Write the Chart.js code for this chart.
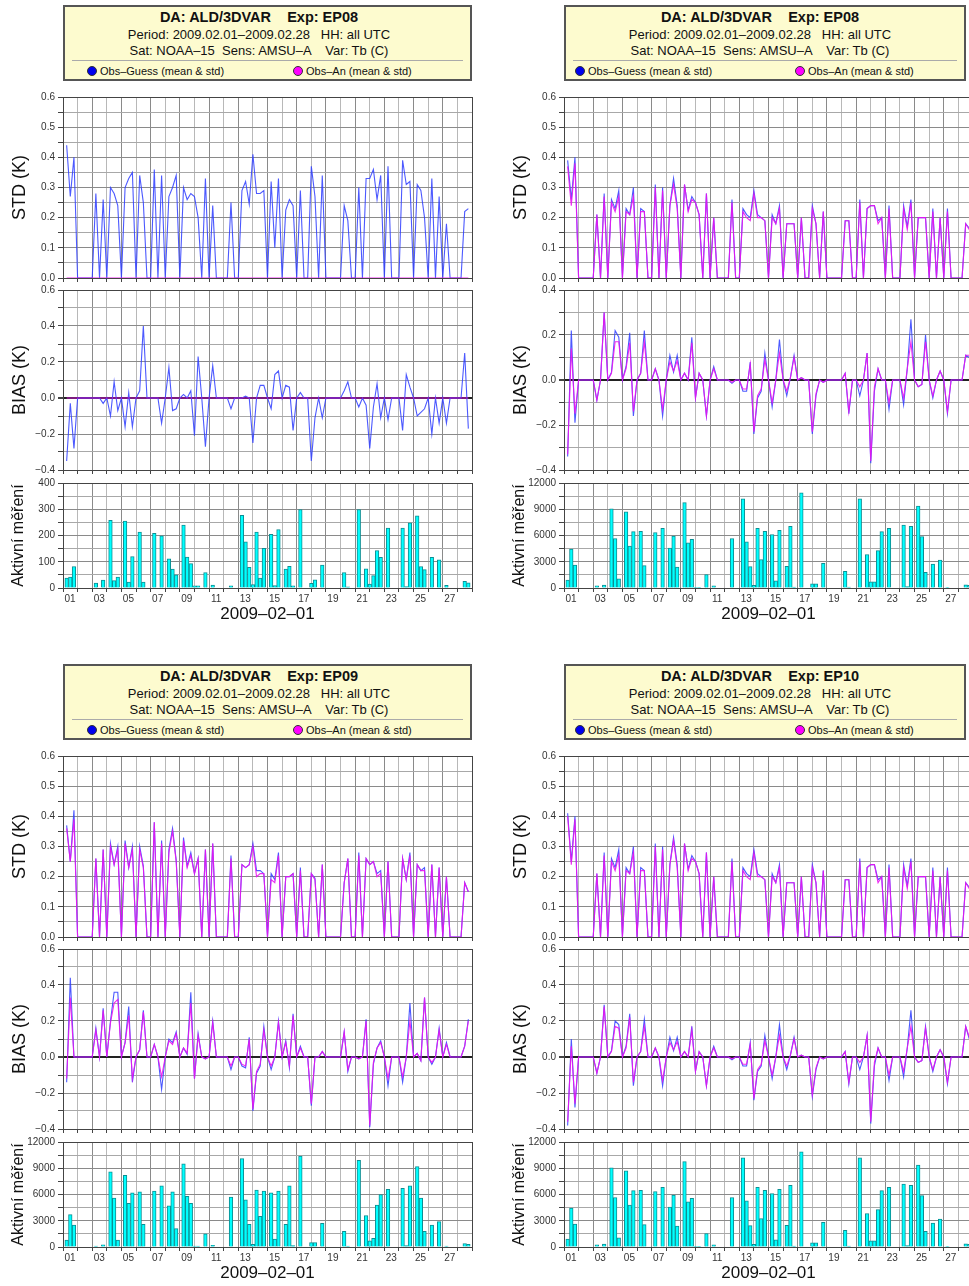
<!DOCTYPE html>
<html>
<head>
<meta charset="utf-8">
<script src="https://cdn.jsdelivr.net/npm/chart.js@4.4.1/dist/chart.umd.min.js"></script>
<style>
  body { margin: 0; background: #fff; width: 969px; height: 1286px; overflow: hidden; position: relative;
         font-family: "Liberation Sans", Arial, sans-serif; }
  canvas { position: absolute; }
  .box { position: absolute; background: #fdfbcf; border: 2px solid #555; box-sizing: border-box; }
  .ln { position: absolute; width: 400px; text-align: center; color: #111; white-space: pre; line-height: 16px; }
  .sep { position: absolute; height: 0; border-top: 1px solid #aaa; }
  .leg { position: absolute; font-size: 11px; color: #111; white-space: pre; line-height: 12px; }
  .dot { display: inline-block; width: 10px; height: 10px; border-radius: 50%; vertical-align: -1px; margin-right: 3px;
         box-sizing: border-box; border: 1px solid #333; }
</style>
</head>
<body>
<script>
// tick labels of the day axis (every second day)
const dayLabels = ['01','03','05','07','09','11','13','15','17','19','21','23','25','27'];

// 6-hourly values, slot i sits at day (i+1)/4 after 2009-02-01 00 UTC

// ---- EP08 (top left)
const ep08a_std_og = [
  0.44,0.27,0.40,0,0,0,0,0,
  0.28,0,0.26,0,0.30,0.28,0.24,0,
  0.30,0.33,0.35,0,0.34,0.25,0,0,
  0.36,0,0.34,0,0.27,0.30,0.34,0,
  0.30,0.26,0.28,0.27,0.20,0,0.33,0,
  0.24,0,0,0,0,0.25,0,0,
  0.29,0.32,0.245,0.41,0.28,0.28,0.29,0,
  0.32,0.10,0.33,0,0.225,0.26,0.24,0,
  0.29,0,0,0.37,0.27,0,0.34,0,
  0,0,0,0,0.24,0.19,0,0,
  0.30,0,0.33,0.33,0.36,0.26,0.34,0,
  0.37,0,0,0,0.39,0.31,0.32,0,
  0.31,0.29,0.20,0,0.33,0,0.27,0,
  0.18,0,0,0,0,0.22,0.23];
const ep08a_std_oa = [
  0,0,0,0,0,0,0,0, 0,0,0,0,0,0,0,0, 0,0,0,0,0,0,0,0, 0,0,0,0,0,0,0,0,
  0,0,0,0,0,0,0,0, 0,0,0,0,0,0,0,0, 0,0,0,0,0,0,0,0, 0,0,0,0,0,0,0,0,
  0,0,0,0,0,0,0,0, 0,0,0,0,0,0,0,0, 0,0,0,0,0,0,0,0, 0,0,0,0,0,0,0,0,
  0,0,0,0,0,0,0,0, 0,0,0,0,0,0,0];
const ep08a_bias_og = [
  -0.35,-0.03,-0.28,0,0,0,0,0,
  0,0,-0.03,0,-0.10,0.09,-0.07,0,
  -0.16,0.03,-0.16,0,0.04,0.40,0,0,
  0,0,-0.14,0,0.17,-0.07,-0.06,0,
  0.02,0,0.04,-0.21,0.23,0,-0.27,0,
  0.18,0,0,0,0,-0.06,0,0,
  0,0.01,0,-0.25,0,0.07,0.07,0,
  -0.06,0.13,0.15,0,0.07,0.06,-0.18,0,
  0.03,0,0,-0.35,-0.11,0,-0.11,0,
  0,0,0,0,0.04,0.09,0,0,
  -0.05,0,-0.04,-0.28,-0.05,0.08,-0.11,0,
  -0.12,0,0,0,-0.18,0.13,0.06,0,
  -0.10,-0.08,-0.06,0,-0.20,0,-0.14,0,
  -0.14,0,0,0,0,0.25,-0.17];
const ep08a_bias_oa = ep08a_std_oa;
const ep08a_obs = [
  38,42,82,0,0,0,0,0,
  19,0,30,0,258,28,42,0,
  255,23,120,0,213,23,0,0,
  208,0,199,0,111,72,50,0,
  240,118,93,8,8,0,59,0,
  11,0,0,0,0,8,0,0,
  277,176,79,13,213,38,151,0,
  204,9,223,0,72,83,8,0,
  299,0,0,18,31,0,87,0,
  0,0,0,0,59,4,0,0,
  299,0,73,15,47,143,117,0,
  228,0,0,0,228,5,248,0,
  275,82,70,0,117,0,107,0,
  10,0,0,0,0,25,20];

// ---- EP08 (top right)
const ep08b_std_og = [
  0.39,0.26,0.40,0,0,0,0,0,
  0.21,0,0.28,0,0.26,0.23,0.29,0,
  0.23,0.21,0.30,0,0.23,0.22,0,0,
  0.31,0,0.30,0,0.24,0.33,0.24,0,
  0.31,0.225,0.27,0.25,0.21,0,0.28,0,
  0.20,0,0,0,0,0.26,0,0,
  0.23,0.21,0.20,0.29,0.21,0.20,0.19,0,
  0.21,0.18,0.24,0,0.18,0.18,0.18,0,
  0.20,0,0,0.24,0.18,0,0.22,0,
  0,0,0,0,0.19,0.19,0,0,
  0.26,0,0.23,0.24,0.24,0.19,0.20,0,
  0.24,0,0,0,0.24,0.17,0.26,0,
  0.20,0.20,0.20,0,0.23,0,0.20,0,
  0.23,0,0,0,0,0.18,0.165];
const ep08b_std_oa = [
  0.37,0.24,0.38,0,0,0,0,0,
  0.21,0,0.27,0,0.25,0.22,0.27,0,
  0.22,0.21,0.27,0,0.22,0.22,0,0,
  0.30,0,0.29,0,0.24,0.31,0.23,0,
  0.31,0.22,0.26,0.25,0.21,0,0.28,0,
  0.20,0,0,0,0,0.25,0,0,
  0.22,0.20,0.19,0.28,0.20,0.20,0.19,0,
  0.20,0.18,0.23,0,0.18,0.18,0.18,0,
  0.20,0,0,0.23,0.18,0,0.22,0,
  0,0,0,0,0.19,0.19,0,0,
  0.25,0,0.23,0.24,0.24,0.18,0.20,0,
  0.23,0,0,0,0.23,0.16,0.25,0,
  0.20,0.20,0.20,0,0.22,0,0.20,0,
  0.22,0,0,0,0,0.18,0.16];
const ep08b_bias_og = [
  -0.34,0.22,-0.19,0,0,0,0,0,
  -0.09,0,0.30,0,0.035,0.22,0.19,0,
  0.06,0.21,-0.16,0,0.03,0.22,0,0,
  0.05,0,-0.16,0,0.11,0.035,0.11,0,
  0.03,0,0.19,-0.08,0.03,0,-0.16,0,
  0.06,0,0,0,0,-0.015,0,0,
  -0.05,-0.05,0.08,-0.24,-0.08,-0.05,0.12,0,
  -0.12,0,0.18,0,-0.07,0.01,0.11,0,
  0.01,0,0,-0.24,-0.07,0,-0.01,0,
  0,0,0,0,0.03,-0.15,0,0,
  -0.07,0,0.12,-0.37,-0.05,0.05,0,0,
  -0.13,0,0,0,-0.11,0.05,0.27,0,
  -0.03,-0.02,0.20,0,-0.08,0,0.04,0,
  -0.15,0,0,0,0,0.11,0.10];
const ep08b_bias_oa = [
  -0.33,0.14,-0.15,0,0,0,0,0,
  -0.09,0,0.30,0,0.03,0.17,0.17,0,
  0.05,0.165,-0.14,0,0.03,0.17,0,0,
  0.05,0,-0.13,0,0.08,0.04,0.085,0,
  0.03,0,0.165,-0.08,0.03,0,-0.16,0,
  0.05,0,0,0,0,-0.01,0,0,
  -0.04,-0.04,0.07,-0.23,-0.07,-0.04,0.09,0,
  -0.10,0,0.12,0,-0.05,0.01,0.10,0,
  0.01,0,0,-0.23,-0.06,0,-0.01,0,
  0,0,0,0,0.03,-0.14,0,0,
  -0.03,0,0.12,-0.36,-0.03,0.05,0,0,
  -0.10,0,0,0,-0.08,0.05,0.17,0,
  -0.03,-0.02,0.17,0,-0.07,0,0.04,0,
  -0.14,0,0,0,0,0.11,0.11];
const ep08b_obs = [
  900,4460,2625,0,0,0,0,0,
  260,0,340,0,9040,5660,1050,0,
  8700,4800,6450,0,6490,2550,0,0,
  6340,0,6830,0,4575,5925,2400,0,
  9750,5175,5550,80,80,0,1540,0,
  260,0,0,0,0,5660,0,0,
  10200,5290,2440,300,6830,3260,6490,0,
  6110,825,6600,0,2475,7050,100,0,
  10870,0,0,490,490,0,2810,0,
  0,0,0,0,1910,110,0,0,
  10200,0,3830,710,710,4275,6450,0,
  6825,0,0,0,7200,150,7050,0,
  9375,5890,1800,0,2740,0,3190,0,
  75,0,0,0,0,375,300];

// ---- EP09 (bottom left)
const ep09_std_og = [
  0.37,0.25,0.42,0,0,0,0,0,
  0.26,0,0.29,0,0.31,0.24,0.30,0,
  0.32,0.23,0.30,0,0.30,0.235,0,0,
  0.38,0,0.32,0,0.29,0.36,0.255,0,
  0.33,0.235,0.28,0.21,0.26,0,0.29,0,
  0.31,0,0,0,0,0.27,0,0,
  0.24,0.23,0.24,0.31,0.22,0.22,0.21,0,
  0.21,0.19,0.28,0,0.20,0.20,0.21,0,
  0.23,0,0,0.21,0.195,0,0.24,0,
  0,0,0,0,0.18,0.26,0,0,
  0.28,0,0.26,0.24,0.25,0.21,0.22,0,
  0.25,0,0,0,0.26,0.19,0.28,0,
  0.24,0.22,0.23,0,0.24,0,0.23,0,
  0.20,0,0,0,0,0.18,0.15];
const ep09_std_oa = [
  0.36,0.25,0.39,0,0,0,0,0,
  0.26,0,0.29,0,0.30,0.24,0.29,0,
  0.31,0.23,0.29,0,0.29,0.23,0,0,
  0.38,0,0.31,0,0.28,0.35,0.25,0,
  0.32,0.23,0.27,0.21,0.26,0,0.29,0,
  0.31,0,0,0,0,0.26,0,0,
  0.24,0.23,0.24,0.30,0.20,0.21,0.21,0,
  0.19,0.18,0.27,0,0.20,0.20,0.21,0,
  0.22,0,0,0.21,0.19,0,0.24,0,
  0,0,0,0,0.18,0.26,0,0,
  0.27,0,0.26,0.24,0.25,0.20,0.21,0,
  0.25,0,0,0,0.26,0.19,0.27,0,
  0.24,0.22,0.22,0,0.24,0,0.23,0,
  0.20,0,0,0,0,0.18,0.15];
const ep09_bias_og = [
  -0.14,0.44,0,0,0,0,0,0,
  0.16,0,0.27,0,0.20,0.36,0.36,0,
  0.08,0.28,-0.14,0,0.04,0.26,0,0,
  0.07,0,-0.18,0,0.10,0.08,0.14,0,
  0.05,0.015,0.36,-0.12,0.13,0,-0.01,0,
  0.20,0,0,0,0,-0.07,0,0,
  -0.05,-0.06,0.11,-0.30,-0.09,-0.05,0.17,0,
  -0.07,0,0.20,0,0.09,-0.06,0.24,0,
  0.06,0,0,-0.27,0,0,0.03,0,
  0,0,0,0,0.14,-0.08,0,0,
  -0.01,0,0.21,-0.39,-0.04,0.05,0.09,0,
  -0.16,0,0,0,-0.14,0,0.30,0,
  0.02,-0.02,0.33,0,-0.04,0,0.16,0,
  0.08,0,0,0,0,0.06,0.21];
const ep09_bias_oa = [
  -0.12,0.33,0,0,0,0,0,0,
  0.15,0,0.26,0,0.19,0.30,0.32,0,
  0.08,0.23,-0.12,0,0.04,0.25,0,0,
  0.07,0,-0.11,0,0.09,0.07,0.13,0,
  0.05,0.02,0.30,-0.12,0.12,0,-0.01,0,
  0.19,0,0,0,0,-0.05,0,0,
  -0.04,-0.05,0.10,-0.29,-0.08,-0.04,0.15,0,
  -0.05,0,0.19,0,0.08,-0.05,0.23,0,
  0.05,0,0,-0.26,0,0,0.03,0,
  0,0,0,0,0.14,-0.07,0,0,
  -0.01,0,0.20,-0.38,-0.03,0.05,0.08,0,
  -0.12,0,0,0,-0.11,0,0.20,0,
  0.02,-0.02,0.33,0,-0.03,0,0.15,0,
  0.07,0,0,0,0,0.06,0.20];
const ep09_obs = [
  800,3700,2500,0,0,0,0,0,
  100,0,250,0,8600,5600,800,0,
  8200,5000,6200,0,6300,2600,0,0,
  6400,0,7000,0,4700,6300,2100,0,
  9500,5800,5000,100,100,0,1500,0,
  200,0,0,0,0,5700,0,0,
  10100,5400,2600,300,6500,3500,6400,0,
  6200,900,6400,0,2600,7000,150,0,
  10400,0,0,500,500,0,2700,0,
  0,0,0,0,1800,100,0,0,
  9900,0,3600,700,1000,4800,6000,0,
  6600,0,0,0,6700,150,7000,0,
  9200,5600,1800,0,2500,0,2900,0,
  100,0,0,0,0,400,300];

// ---- EP10 (bottom right)
const ep10_std_og = [
  0.41,0.25,0.40,0,0,0,0,0,
  0.21,0,0.28,0,0.26,0.23,0.29,0,
  0.23,0.21,0.30,0,0.23,0.22,0,0,
  0.31,0,0.30,0,0.24,0.33,0.24,0,
  0.31,0.225,0.27,0.25,0.21,0,0.28,0,
  0.20,0,0,0,0,0.26,0,0,
  0.23,0.21,0.20,0.29,0.21,0.20,0.19,0,
  0.21,0.18,0.24,0,0.18,0.18,0.18,0,
  0.20,0,0,0.24,0.18,0,0.22,0,
  0,0,0,0,0.19,0.19,0,0,
  0.26,0,0.23,0.24,0.24,0.19,0.20,0,
  0.24,0,0,0,0.24,0.17,0.26,0,
  0.20,0.20,0.20,0,0.23,0,0.20,0,
  0.23,0,0,0,0,0.18,0.165];
const ep10_std_oa = [
  0.40,0.24,0.39,0,0,0,0,0,
  0.21,0,0.27,0,0.25,0.22,0.27,0,
  0.22,0.21,0.28,0,0.22,0.22,0,0,
  0.30,0,0.29,0,0.24,0.32,0.23,0,
  0.31,0.22,0.26,0.25,0.21,0,0.28,0,
  0.20,0,0,0,0,0.25,0,0,
  0.22,0.20,0.19,0.28,0.20,0.20,0.19,0,
  0.20,0.18,0.23,0,0.18,0.18,0.18,0,
  0.20,0,0,0.23,0.18,0,0.22,0,
  0,0,0,0,0.19,0.19,0,0,
  0.25,0,0.23,0.24,0.24,0.18,0.20,0,
  0.23,0,0,0,0.23,0.16,0.25,0,
  0.20,0.20,0.20,0,0.22,0,0.20,0,
  0.22,0,0,0,0,0.18,0.16];
const ep10_bias_og = [
  -0.38,0.10,-0.28,0,0,0,0,0,
  -0.09,0,0.29,0,0.035,0.20,0.18,0,
  0.06,0.24,-0.16,0,0.03,0.21,0,0,
  0.05,0,-0.16,0,0.11,0.035,0.11,0,
  0.03,0,0.17,-0.08,0.03,0,-0.16,0,
  0.06,0,0,0,0,-0.015,0,0,
  -0.05,-0.05,0.08,-0.24,-0.08,-0.05,0.12,0,
  -0.12,0,0.18,0,-0.07,0.01,0.11,0,
  0.01,0,0,-0.22,-0.07,0,-0.01,0,
  0,0,0,0,0.03,-0.15,0,0,
  -0.07,0,0.12,-0.37,-0.05,0.05,0,0,
  -0.13,0,0,0,-0.11,0.05,0.26,0,
  -0.03,-0.02,0.17,0,-0.08,0,0.04,0,
  -0.15,0,0,0,0,0.17,0.10];
const ep10_bias_oa = [
  -0.36,0.06,-0.26,0,0,0,0,0,
  -0.09,0,0.28,0,0.03,0.17,0.16,0,
  0.05,0.22,-0.14,0,0.03,0.17,0,0,
  0.05,0,-0.13,0,0.08,0.04,0.085,0,
  0.03,0,0.15,-0.08,0.03,0,-0.16,0,
  0.05,0,0,0,0,-0.01,0,0,
  -0.04,-0.04,0.07,-0.23,-0.07,-0.04,0.09,0,
  -0.10,0,0.12,0,-0.05,0.01,0.10,0,
  0.01,0,0,-0.21,-0.06,0,-0.01,0,
  0,0,0,0,0.03,-0.14,0,0,
  -0.03,0,0.12,-0.36,-0.03,0.05,0,0,
  -0.10,0,0,0,-0.08,0.05,0.17,0,
  -0.03,-0.02,0.16,0,-0.07,0,0.04,0,
  -0.14,0,0,0,0,0.17,0.11];
const ep10_obs = [
  900,4460,2625,0,0,0,0,0,
  260,0,340,0,9040,5660,1050,0,
  8700,4800,6450,0,6490,2550,0,0,
  6340,0,6830,0,4575,5925,2400,0,
  9750,5175,5550,80,80,0,1540,0,
  260,0,0,0,0,5660,0,0,
  10200,5290,2440,300,6830,3260,6490,0,
  6110,825,6600,0,2475,7050,100,0,
  10870,0,0,490,490,0,2810,0,
  0,0,0,0,1910,110,0,0,
  10200,0,3830,710,710,4275,6450,0,
  6825,0,0,0,7200,150,7050,0,
  9375,5890,1800,0,2740,0,3190,0,
  75,0,0,0,0,375,300];

const panels = [
  { dx: 0,   dy: 0,   exp: 'EP08', std: [ep08a_std_og, ep08a_std_oa], bias: [ep08a_bias_og, ep08a_bias_oa], obs: ep08a_obs,
    biasMax: 0.6, obsMax: 400, obsStep: 50, obsLab: 100, tx: 259, l1: 87, l2: 293, bw: 409 },
  { dx: 501, dy: 0,   exp: 'EP08', std: [ep08b_std_og, ep08b_std_oa], bias: [ep08b_bias_og, ep08b_bias_oa], obs: ep08b_obs,
    biasMax: 0.4, obsMax: 12000, obsStep: 1500, obsLab: 3000, tx: 760, l1: 575, l2: 795, bw: 402 },
  { dx: 0,   dy: 659, exp: 'EP09', std: [ep09_std_og, ep09_std_oa], bias: [ep09_bias_og, ep09_bias_oa], obs: ep09_obs,
    biasMax: 0.6, obsMax: 12000, obsStep: 1500, obsLab: 3000, tx: 259, l1: 87, l2: 293, bw: 409 },
  { dx: 501, dy: 659, exp: 'EP10', std: [ep10_std_og, ep10_std_oa], bias: [ep10_bias_og, ep10_bias_oa], obs: ep10_obs,
    biasMax: 0.6, obsMax: 12000, obsStep: 1500, obsLab: 3000, tx: 760, l1: 575, l2: 795, bw: 402 },
];

Chart.defaults.font.family = '"Liberation Sans", Arial, sans-serif';
Chart.defaults.color = '#222';
Chart.defaults.animation = false;

const pts = arr => arr.map((v, i) => ({ x: (i + 1) / 4, y: v }));
const barPts = arr => arr.map((v, i) => ({ x: (i + 1) / 4, y: v })).filter(p => p.y > 0);
const near = (a, b) => Math.abs(a - b) < 1e-6;
const minus = s => s.replace('-', '\u2212');

function xScale(withLabels) {
  return {
    type: 'linear', min: 0, max: 28, offset: false,
    ticks: { stepSize: 1, autoSkip: false, maxRotation: 0, display: withLabels, labelOffset: 7, padding: 1,
             font: { size: 10 }, color: '#333',
             callback: v => (v % 2 === 0 && v < 28) ? dayLabels[v / 2] : '' },
    grid: { offset: false,
            color: c => {
              if (!c.tick) return '#444';
              const v = c.tick.value;
              return (v === 0 || v === 28) ? '#444' : (v % 2 === 0 ? '#8a8a8a' : '#b8b8b8');
            },
            tickLength: 4, tickColor: '#444' },
    border: { color: '#444' },
    title: withLabels ? { display: true, text: '2009\u201302\u201301', font: { size: 17 }, color: '#111', padding: 0 }
                      : { display: false },
    afterFit: s => { s.height = withLabels ? 37 : 0; }
  };
}

function yScale(min, max, step, isLabel, fmt, title, titleSize, zero) {
  return {
    type: 'linear', min: min, max: max,
    ticks: { stepSize: step, autoSkip: false, font: { size: 10 }, color: '#333', padding: 3,
             callback: v => isLabel(v) ? fmt(v) : '' },
    grid: {
      color: c => {
        if (!c.tick) return '#444';
        const v = c.tick.value;
        if (near(v, min) || near(v, max)) return '#444';
        if (zero && near(v, 0)) return '#222';
        return isLabel(v) ? '#8a8a8a' : '#a8a8a8';
      },
      lineWidth: c => (zero && c.tick && near(c.tick.value, 0)) ? 2 : 1,
      tickLength: 5, tickColor: '#444'
    },
    border: { color: '#444' },
    title: { display: true, text: title, font: { size: titleSize }, color: '#111', padding: { top: 9, bottom: 0 } },
    afterFit: s => { s.width = 63; }
  };
}

function lineSets(pair) {
  return [
    { data: pts(pair[0]), borderColor: 'rgba(45,60,255,0.85)', borderWidth: 1.1, pointRadius: 0, tension: 0, order: 2 },
    { data: pts(pair[1]), borderColor: 'rgba(235,20,240,0.9)', borderWidth: 1.1, pointRadius: 0, tension: 0, order: 1 }
  ];
}

function addCanvas(left, top, w, h) {
  const c = document.createElement('canvas');
  c.width = w; c.height = h;
  c.style.left = left + 'px'; c.style.top = top + 'px';
  c.style.width = w + 'px'; c.style.height = h + 'px';
  document.body.appendChild(c);
  return c;
}

const common = {
  responsive: false, maintainAspectRatio: false, devicePixelRatio: 1,
  plugins: { legend: { display: false }, tooltip: { enabled: false } }
};

function addBox(p) {
  const left = p.dx + 63, top = p.dy + 5;
  const box = document.createElement('div');
  box.className = 'box';
  Object.assign(box.style, { left: left + 'px', top: top + 'px', width: p.bw + 'px', height: '76px' });
  document.body.appendChild(box);
  const lines = [
    ['DA: ALD/3DVAR    Exp: ' + p.exp, 14.5, 'bold', 9],
    ['Period: 2009.02.01\u20132009.02.28   HH: all UTC', 13, 'normal', 27],
    ['Sat: NOAA\u201315  Sens: AMSU\u2013A    Var: Tb (C)', 13, 'normal', 43]
  ];
  lines.forEach(([txt, size, weight, y]) => {
    const d = document.createElement('div');
    d.className = 'ln';
    d.textContent = txt;
    Object.assign(d.style, { left: (p.tx - 200) + 'px', top: (p.dy + y) + 'px', fontSize: size + 'px', fontWeight: weight });
    document.body.appendChild(d);
  });
  const sep = document.createElement('div');
  sep.className = 'sep';
  Object.assign(sep.style, { left: (left + 9) + 'px', top: (p.dy + 60) + 'px', width: (p.bw - 18) + 'px' });
  document.body.appendChild(sep);
  [[p.l1, '#0000ee', 'Obs\u2013Guess (mean & std)'], [p.l2, '#ff00ff', 'Obs\u2013An (mean & std)']].forEach(([x, col, txt]) => {
    const d = document.createElement('div');
    d.className = 'leg';
    d.innerHTML = '<span class="dot" style="background:' + col + '"></span>' + txt.replace('&', '&amp;');
    Object.assign(d.style, { left: x + 'px', top: (p.dy + 65) + 'px' });
    document.body.appendChild(d);
  });
}

panels.forEach(p => {
  addBox(p);

  // STD
  new Chart(addCanvas(p.dx, p.dy + 88, 480, 199), {
    type: 'line',
    data: { datasets: lineSets(p.std) },
    options: Object.assign({}, common, {
      layout: { padding: { top: 8, bottom: 8, left: 0, right: 8 } },
      scales: {
        x: xScale(false),
        y: yScale(0, 0.6, 0.05, v => Math.round(v * 100) % 10 === 0, v => v.toFixed(1), 'STD (K)', 18, false)
      }
    })
  });

  // BIAS
  new Chart(addCanvas(p.dx, p.dy + 281, 480, 198), {
    type: 'line',
    data: { datasets: lineSets(p.bias) },
    options: Object.assign({}, common, {
      layout: { padding: { top: 8, bottom: 8, left: 0, right: 8 } },
      scales: {
        x: xScale(false),
        y: yScale(-0.4, p.biasMax, 0.1, v => Math.round(v * 10) % 2 === 0, v => minus((Math.abs(v) < 1e-9 ? 0 : v).toFixed(1)),
                  'BIAS (K)', 18, true)
      }
    })
  });

  // active observations
  new Chart(addCanvas(p.dx, p.dy + 474, 480, 152), {
    type: 'bar',
    data: { datasets: [{ data: barPts(p.obs), backgroundColor: '#00ffff', borderColor: '#0b8f93', borderWidth: 1,
                         barThickness: 3.6, borderSkipped: 'bottom' }] },
    options: Object.assign({}, common, {
      layout: { padding: { top: 8, bottom: 1, left: 0, right: 8 } },
      scales: {
        x: xScale(true),
        y: yScale(0, p.obsMax, p.obsStep, v => Math.round(v) % p.obsLab === 0, v => String(Math.round(v)),
                  'Aktivn\u00ed m\u011b\u0159en\u00ed', 16, false)
      }
    })
  });
});
</script>
</body>
</html>
